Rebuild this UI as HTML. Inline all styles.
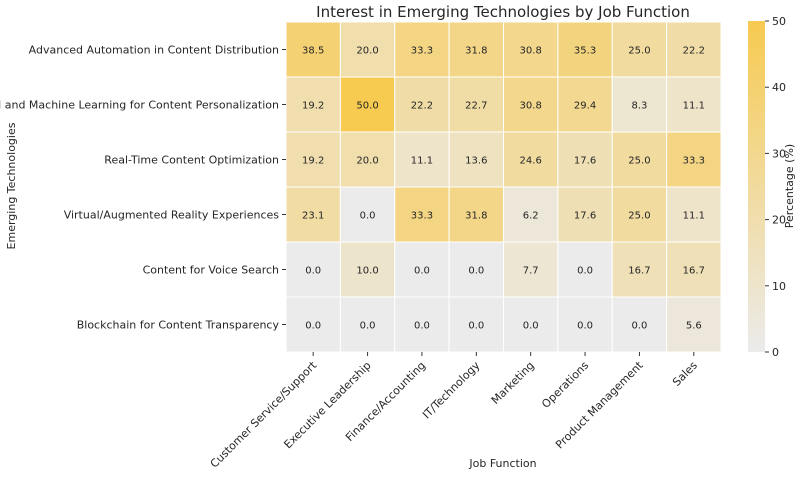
<!DOCTYPE html>
<html><head><meta charset="utf-8"><style>
body{margin:0;background:#fff;font-family:"Liberation Sans","DejaVu Sans",sans-serif;}
svg text{font-family:"DejaVu Sans","Liberation Sans",sans-serif;fill:#262626;}
</style></head><body>
<svg id="chart" width="800" height="475">
<text x="503" y="17" text-anchor="middle" font-size="15">Interest in Emerging Technologies by Job Function</text>
<g id="cells"></g><g id="xlabels"></g><g id="ylabels"></g>
<defs><linearGradient id="cg" x1="0" y1="1" x2="0" y2="0"><stop offset="0" stop-color="#ebebeb"/><stop offset="1" stop-color="#f7ca50"/></linearGradient></defs>
<rect x="748" y="21" width="17" height="331" fill="url(#cg)"/>
<g id="cbticks"></g>
<text transform="translate(793,186) rotate(-90)" text-anchor="middle" font-size="11">Percentage (%)</text>
<text x="503" y="467" text-anchor="middle" font-size="11">Job Function</text>
<text transform="translate(15,186) rotate(-90)" text-anchor="middle" font-size="11">Emerging Technologies</text>
</svg>
<script>
const columns=["Customer Service/Support","Executive Leadership","Finance/Accounting","IT/Technology","Marketing","Operations","Product Management","Sales"];
const rows=["Advanced Automation in Content Distribution","AI and Machine Learning for Content Personalization","Real-Time Content Optimization","Virtual/Augmented Reality Experiences","Content for Voice Search","Blockchain for Content Transparency"];
const row0=[38.5,20.0,33.3,31.8,30.8,35.3,25.0,22.2];
const row1=[19.2,50.0,22.2,22.7,30.8,29.4,8.3,11.1];
const row2=[19.2,20.0,11.1,13.6,24.6,17.6,25.0,33.3];
const row3=[23.1,0.0,33.3,31.8,6.2,17.6,25.0,11.1];
const row4=[0.0,10.0,0.0,0.0,7.7,0.0,16.7,16.7];
const row5=[0.0,0.0,0.0,0.0,0.0,0.0,0.0,5.6];
const cbTicks=[0,10,20,30,40,50];
const values=[row0,row1,row2,row3,row4,row5];
const NS="http://www.w3.org/2000/svg";
const X0=286,X1=721,Y0=22,Y1=352,VMAX=50;
const cw=(X1-X0)/columns.length,ch=(Y1-Y0)/rows.length;
const xs=i=>X0+i*cw, ys=j=>Y0+j*ch;
function color(v){const t=Math.max(0,Math.min(1,v/VMAX));const a=[235,235,235],b=[247,202,80];return `rgb(${a.map((c,k)=>Math.round(c+(b[k]-c)*t)).join(',')})`;}
function mk(tag,attrs,parent){const e=document.createElementNS(NS,tag);for(const k in attrs)e.setAttribute(k,attrs[k]);parent.appendChild(e);return e;}
const cells=document.getElementById('cells');
values.forEach((r,j)=>r.forEach((v,i)=>{
 const re=mk('rect',{x:xs(i),y:ys(j),width:cw,height:ch,fill:color(v),stroke:'#fff','stroke-width':1},cells);
 
 
 const t=mk('text',{x:xs(i)+cw/2,y:ys(j)+ch/2+4,'text-anchor':'middle','font-size':10},cells);
 t.textContent=v.toFixed(1);
 
 
}));
const xl=document.getElementById('xlabels');
columns.forEach((c,i)=>{
 const cx=xs(i)+cw/2;
 mk('line',{x1:cx,y1:Y1,x2:cx,y2:Y1+4,stroke:'#333'},xl);
 const t=mk('text',{transform:`translate(${cx+4},${Y1+14}) rotate(-45)`,'text-anchor':'end','font-size':11},xl);
 t.textContent=c;
 
 
});
const yl=document.getElementById('ylabels');
rows.forEach((r,j)=>{
 const cy=ys(j)+ch/2;
 mk('line',{x1:X0-4,y1:cy,x2:X0,y2:cy,stroke:'#333'},yl);
 const t=mk('text',{x:X0-7,y:cy+4,'text-anchor':'end','font-size':11},yl);
 t.textContent=r;
 
 
});
const cb=document.getElementById('cbticks');
cbTicks.forEach(v=>{
 const y=352-v/VMAX*331;
 mk('line',{x1:765,y1:y,x2:769,y2:y,stroke:'#333'},cb);
 const t=mk('text',{x:772,y:y+4,'font-size':11},cb);
 t.textContent=v;
 
 
});
</script>
</body></html>
